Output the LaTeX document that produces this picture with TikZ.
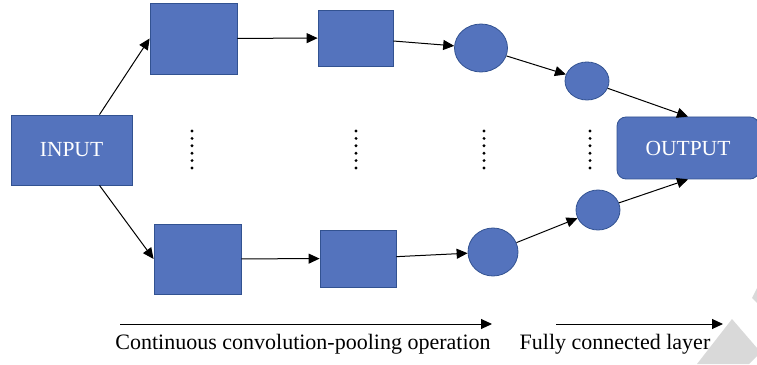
\documentclass[tikz,border=0pt]{standalone}
\usepackage{fontspec}
\setmainfont{Liberation Serif}
\usepackage{tikz}
\usetikzlibrary{arrows.meta,shapes}
\definecolor{nnblue}{RGB}{84,115,189}
\definecolor{nnedge}{RGB}{50,82,145}
\definecolor{nngray}{RGB}{217,217,217}
\tikzstyle{layer} = [rectangle, draw=nnedge, fill=nnblue, line width=0.8pt, inner sep=0pt, text=white, font=\fontsize{21.5}{25}\selectfont]
\tikzstyle{neuron} = [ellipse, draw=nnedge, fill=nnblue, line width=0.8pt, inner sep=0pt]
\tikzstyle{arrow} = [line width=1pt, ->, >={Triangle[length=11pt,width=10pt]}]
\tikzstyle{caption} = [font=\fontsize{22}{26}\selectfont]

\begin{document}
\begin{tikzpicture}[x=1pt, y=1pt]
\useasboundingbox (0,0) rectangle (757,364);
\clip (0,0) rectangle (757,364);

% page corner marks
\fill[nngray] (697,0) -- (732,45) -- (757,16) -- (757,8) -- (749,0) -- cycle;
\fill[nngray] (757,76) -- (752,66) -- (757,61) -- cycle;

\node (input) [layer, minimum width=121pt, minimum height=70pt] at (71.5,214) {INPUT};
\node (conv1) [layer, minimum width=87pt, minimum height=71pt] at (193.5,325.5) {};
\node (conv2) [layer, minimum width=87pt, minimum height=70pt] at (197.5,105) {};
\node (pool1) [layer, minimum width=75pt, minimum height=56pt] at (355.5,326) {};
\node (pool2) [layer, minimum width=76pt, minimum height=57pt] at (358,105.5) {};
\node (feat1) [neuron, minimum width=53pt, minimum height=48pt] at (481,316) {};
\node (feat2) [neuron, minimum width=50pt, minimum height=48pt] at (493,112) {};
\node (fc1) [neuron, minimum width=44pt, minimum height=38pt] at (587,283) {};
\node (fc2) [neuron, minimum width=44pt, minimum height=40pt] at (598,154) {};
\node (output) [layer, rounded corners=9pt, minimum width=142pt, minimum height=62pt] at (688,216) {OUTPUT};

\draw[arrow] ([xshift=28pt]input.north) -- (conv1.west);
\draw[arrow] ([xshift=28pt]input.south) -- (conv2.west);
\draw[arrow] (conv1) -- (pool1);
\draw[arrow] (conv2) -- (pool2);
\draw[arrow] (pool1) -- (feat1);
\draw[arrow] (pool2) -- (feat2);
\draw[arrow] (feat1) -- (fc1);
\draw[arrow] (feat2) -- (fc2);
\draw[arrow] (fc1) -- (output.north);
\draw[arrow] (fc2) -- (output.south);

% dotted columns
\foreach \x in {192,356,484,590}
  \foreach \k in {0,...,5}
    \fill (\x,{233-\k*7.4}) circle (1.6pt);

% stage arrows
\coordinate (convstart) at (120,40);
\coordinate (convend) at (492,40);
\coordinate (fcstart) at (556,40);
\coordinate (fcend) at (723,40);
\draw[arrow] (convstart) -- (convend);
\draw[arrow] (fcstart) -- (fcend);
\node (convtext) [caption] at (303,20) {Continuous convolution-pooling operation};
\node (fctext) [caption] at (615,20) {Fully connected layer};
\end{tikzpicture}
\end{document}
